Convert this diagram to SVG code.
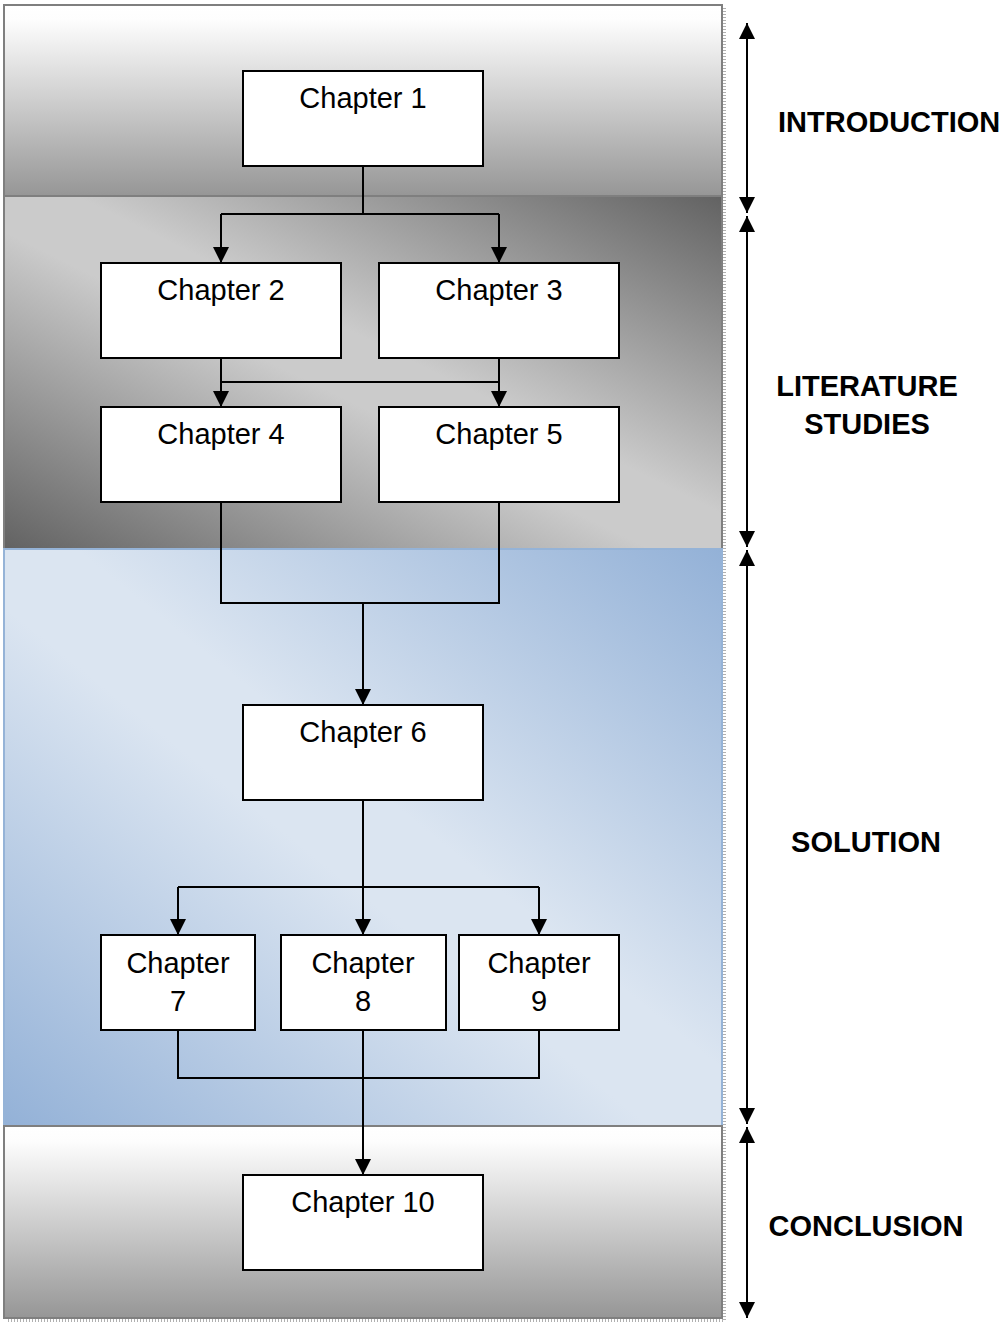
<svg xmlns="http://www.w3.org/2000/svg" width="1003" height="1323" viewBox="0 0 1003 1323">
  <defs>
    <linearGradient id="gVert" x1="0" y1="0" x2="0" y2="1">
      <stop offset="0" stop-color="#ffffff"/>
      <stop offset="0.08" stop-color="#fdfdfd"/>
      <stop offset="1" stop-color="#969696"/>
    </linearGradient>
    <linearGradient id="gGrey" x1="0" y1="1" x2="1" y2="0">
      <stop offset="0" stop-color="#626262"/>
      <stop offset="0.45" stop-color="#cbcbcb"/>
      <stop offset="0.55" stop-color="#cbcbcb"/>
      <stop offset="1" stop-color="#626262"/>
    </linearGradient>
    <linearGradient id="gBlue" x1="0" y1="1" x2="1" y2="0">
      <stop offset="0" stop-color="#93b1d7"/>
      <stop offset="0.45" stop-color="#dbe5f1"/>
      <stop offset="0.55" stop-color="#dbe5f1"/>
      <stop offset="1" stop-color="#93b1d7"/>
    </linearGradient>
    <marker id="ah" viewBox="0 0 10 10" refX="10" refY="5" markerWidth="16" markerHeight="16" markerUnits="userSpaceOnUse" orient="auto-start-reverse">
      <path d="M0,0 L10,5 L0,10 Z" fill="#000"/>
    </marker>
  </defs>
  <style>
    .box { fill: #ffffff; stroke: #000; stroke-width: 2; }
    .lbl { font-family: "Liberation Sans", Arial, sans-serif; font-size: 29px; fill: #000; text-anchor: middle; }
    .sec { font-family: "Liberation Sans", Arial, sans-serif; font-size: 29px; font-weight: bold; fill: #000; text-anchor: middle; }
    .wire { fill: none; stroke: #000; stroke-width: 2; }
    .span { fill: none; stroke: #000; stroke-width: 2; }
    .shade { fill: none; stroke: #b0b0b0; stroke-width: 3; stroke-dasharray: 1 2; }
  </style>

  <!-- section panels -->
  <g id="panels">
    <rect x="4" y="5" width="718" height="191" fill="url(#gVert)" stroke="#7f7f7f" stroke-width="2"/>
    <rect x="4" y="196" width="718" height="353" fill="url(#gGrey)" stroke="#7f7f7f" stroke-width="2"/>
    <rect x="4" y="549" width="718" height="577" fill="url(#gBlue)" stroke="#95b3d7" stroke-width="2"/>
    <rect x="4" y="1126" width="718" height="192" fill="url(#gVert)" stroke="#7f7f7f" stroke-width="2"/>
    <path class="shade" d="M724.5,8 V1320.5 H6"/>
  </g>

  <!-- connectors -->
  <g id="connectors">
    <path class="wire" d="M363,166 V214 M221,214 H499"/>
    <path class="wire" d="M221,214 V263" marker-end="url(#ah)"/>
    <path class="wire" d="M499,214 V263" marker-end="url(#ah)"/>
    <path class="wire" d="M221,382 H499"/>
    <path class="wire" d="M221,358 V407" marker-end="url(#ah)"/>
    <path class="wire" d="M499,358 V407" marker-end="url(#ah)"/>
    <path class="wire" d="M221,502 V603 H499 V502"/>
    <path class="wire" d="M363,603 V705" marker-end="url(#ah)"/>
    <path class="wire" d="M363,800 V887 M178,887 H539"/>
    <path class="wire" d="M178,887 V935" marker-end="url(#ah)"/>
    <path class="wire" d="M363,887 V935" marker-end="url(#ah)"/>
    <path class="wire" d="M539,887 V935" marker-end="url(#ah)"/>
    <path class="wire" d="M178,1030 V1078 H539 V1030"/>
    <path class="wire" d="M363,1030 V1175" marker-end="url(#ah)"/>
  </g>

  <!-- section extent arrows -->
  <g id="spans">
    <path class="span" d="M747,23 V213" marker-start="url(#ah)" marker-end="url(#ah)"/>
    <path class="span" d="M747,216 V547" marker-start="url(#ah)" marker-end="url(#ah)"/>
    <path class="span" d="M747,550 V1124" marker-start="url(#ah)" marker-end="url(#ah)"/>
    <path class="span" d="M747,1127 V1318" marker-start="url(#ah)" marker-end="url(#ah)"/>
  </g>

  <!-- section labels -->
  <g id="sections">
    <text class="sec" x="778" y="132" style="text-anchor:start">INTRODUCTION</text>
    <text class="sec" x="867" y="396">LITERATURE</text>
    <text class="sec" x="867" y="434">STUDIES</text>
    <text class="sec" x="866" y="852">SOLUTION</text>
    <text class="sec" x="866" y="1236">CONCLUSION</text>
  </g>

  <!-- chapters -->
  <g id="ch1"><rect class="box" x="243" y="71" width="240" height="95"/><text class="lbl" x="363" y="108">Chapter 1</text></g>
  <g id="ch2"><rect class="box" x="101" y="263" width="240" height="95"/><text class="lbl" x="221" y="300">Chapter 2</text></g>
  <g id="ch3"><rect class="box" x="379" y="263" width="240" height="95"/><text class="lbl" x="499" y="300">Chapter 3</text></g>
  <g id="ch4"><rect class="box" x="101" y="407" width="240" height="95"/><text class="lbl" x="221" y="444">Chapter 4</text></g>
  <g id="ch5"><rect class="box" x="379" y="407" width="240" height="95"/><text class="lbl" x="499" y="444">Chapter 5</text></g>
  <g id="ch6"><rect class="box" x="243" y="705" width="240" height="95"/><text class="lbl" x="363" y="742">Chapter 6</text></g>
  <g id="ch7"><rect class="box" x="101" y="935" width="154" height="95"/><text class="lbl" x="178" y="973">Chapter</text><text class="lbl" x="178" y="1011">7</text></g>
  <g id="ch8"><rect class="box" x="281" y="935" width="165" height="95"/><text class="lbl" x="363" y="973">Chapter</text><text class="lbl" x="363" y="1011">8</text></g>
  <g id="ch9"><rect class="box" x="459" y="935" width="160" height="95"/><text class="lbl" x="539" y="973">Chapter</text><text class="lbl" x="539" y="1011">9</text></g>
  <g id="ch10"><rect class="box" x="243" y="1175" width="240" height="95"/><text class="lbl" x="363" y="1212">Chapter 10</text></g>
</svg>
